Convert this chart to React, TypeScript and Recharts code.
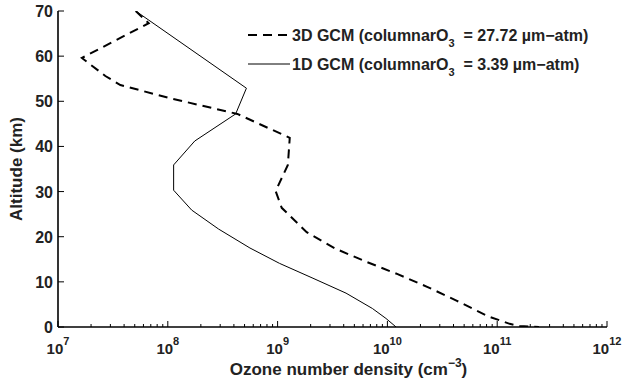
import React from 'react';
import { ScatterChart, Scatter, XAxis, YAxis, Legend } from 'recharts';

// altitude (km) / ozone number density (cm^-3)
const alt3d = [70, 67.3, 59.6, 55.6, 53.6, 50.7, 47.2, 41.9, 35.9, 30.1, 26.4, 21.0, 17.3, 14.4, 11.7, 8.9, 5.8, 2.4, 0.7, 0.2, 0];
const density3d = [5.1e7, 6.7e7, 1.65e7, 2.7e7, 3.7e7, 1.04e8, 4.3e8, 1.29e9, 1.24e9, 9.6e8, 1.09e9, 1.84e9, 3.4e9, 6.5e9, 1.24e10, 2.3e10, 4.3e10, 8.2e10, 1.3e11, 1.6e11, 2.4e11];

const alt1d = [70, 52.9, 47.2, 41.2, 35.9, 30.3, 25.9, 21.7, 17.5, 14.1, 10.8, 7.5, 4.1, 1.9, 0];
const density1d = [5.1e7, 5.2e8, 4.15e8, 1.76e8, 1.13e8, 1.13e8, 1.65e8, 2.9e8, 5.6e8, 1.04e9, 2.1e9, 4.2e9, 7.3e9, 9.7e9, 1.2e10];

const decadeExponents = [7, 8, 9, 10, 11, 12];
const minorMultipliers = [2, 3, 4, 5, 6, 7, 8, 9];
const altitudeTicks = [0, 10, 20, 30, 40, 50, 60, 70];

const legendItems = [
  { label: '3D GCM (columnarO', sub: '3', rest: '\u00A0\u00A0= 27.72 \u00B5m\u2212atm)', dash: '9 6', width: 2 },
  { label: '1D GCM (columnarO', sub: '3', rest: '\u00A0\u00A0= 3.39 \u00B5m\u2212atm)', dash: undefined, width: 1 },
];

const FONT = '"Liberation Sans", Arial, Helvetica, sans-serif';
const TEXT = '#222';

const data3d = alt3d.map((a, i) => ({ alt: a, density: density3d[i] }));
const data1d = alt1d.map((a, i) => ({ alt: a, density: density1d[i] }));

const decades = decadeExponents.map((e) => Math.pow(10, e));
const xTicks = [
  ...decades,
  ...decadeExponents.slice(0, -1).flatMap((e) => minorMultipliers.map((m) => m * Math.pow(10, e))),
];

const isDecade = (v: number) => decades.some((d) => Math.abs(d - v) < d * 1e-6);

function BottomTick(props: any) {
  const { x, y, payload } = props;
  const major = isDecade(payload.value);
  const exp = Math.round(Math.log10(payload.value));
  return (
    <g>
      <line x1={x} x2={x} y1={y} y2={y - (major ? 6 : 3)} stroke="#000" />
      {major && (
        <text x={x} y={y + 27} textAnchor="middle" fontFamily={FONT} fontWeight="bold" fontSize={15} fill={TEXT}>
          10
          <tspan dy={-9} fontSize={11}>{exp}</tspan>
        </text>
      )}
    </g>
  );
}

function TopTick(props: any) {
  const { x, y, payload } = props;
  const major = isDecade(payload.value);
  return <line x1={x} x2={x} y1={y} y2={y + (major ? 6 : 3)} stroke="#000" />;
}

function LeftTick(props: any) {
  const { x, y, payload } = props;
  return (
    <g>
      <line x1={x} x2={x + 6} y1={y} y2={y} stroke="#000" />
      <text x={x - 5} y={y + 6} textAnchor="end" fontFamily={FONT} fontWeight="bold" fontSize={16} fill={TEXT}>
        {payload.value}
      </text>
    </g>
  );
}

function RightTick(props: any) {
  const { x, y } = props;
  return <line x1={x} x2={x - 6} y1={y} y2={y} stroke="#000" />;
}

function XTitle(props: any) {
  const { x, y, width } = props.viewBox;
  return (
    <text x={x + width / 2 + 16} y={y + 48} textAnchor="middle" fontFamily={FONT} fontWeight="bold" fontSize={17} fill={TEXT}>
      Ozone number density (cm
      <tspan dy={-8} fontSize={12}>{'\u22123'}</tspan>
      <tspan dy={8}>)</tspan>
    </text>
  );
}

function YTitle(props: any) {
  const { y, height } = props.viewBox;
  const cx = 22;
  const cy = y + height / 2;
  return (
    <text x={cx} y={cy} transform={`rotate(-90, ${cx}, ${cy})`} textAnchor="middle" fontFamily={FONT} fontWeight="bold" fontSize={17} fill={TEXT}>
      Altitude (km)
    </text>
  );
}

function LegendBox() {
  return (
    <svg width={370} height={56}>
      {legendItems.map((item, i) => {
        const cy = 15 + i * 29;
        return (
          <g key={item.label + i}>
            <line x1={4} x2={46} y1={cy} y2={cy} stroke="#000" strokeWidth={item.width} strokeDasharray={item.dash} />
            <text x={48} y={cy + 5.5} fontFamily={FONT} fontWeight="bold" fontSize={16} fill={TEXT}>
              {item.label}
              <tspan dy={6} fontSize={11}>{item.sub}</tspan>
              <tspan dy={-6}>{item.rest}</tspan>
            </text>
          </g>
        );
      })}
    </svg>
  );
}

const noDot = () => <g />;

export default function App() {
  return (
    <div style={{ position: 'absolute', left: 0, top: 0, width: 624, height: 384, background: '#fff' }}>
      <ScatterChart width={624} height={384} margin={{ top: 11, right: 17, bottom: 0, left: 0 }}>
        <XAxis
          xAxisId="bottom"
          dataKey="density"
          type="number"
          scale="log"
          domain={[1e7, 1e12]}
          allowDataOverflow
          ticks={xTicks}
          interval={0}
          tick={BottomTick}
          tickLine={false}
          tickSize={0}
          tickMargin={0}
          height={57}
          axisLine={{ stroke: '#000', strokeWidth: 1.6 }}
          label={{ content: XTitle }}
        />
        <XAxis
          xAxisId="top"
          orientation="top"
          dataKey="density"
          type="number"
          scale="log"
          domain={[1e7, 1e12]}
          allowDataOverflow
          ticks={xTicks}
          interval={0}
          tick={TopTick}
          tickLine={false}
          tickSize={0}
          tickMargin={0}
          height={0}
          axisLine={{ stroke: '#000', strokeWidth: 1.6 }}
        />
        <YAxis
          yAxisId="left"
          dataKey="alt"
          type="number"
          domain={[0, 70]}
          allowDataOverflow
          ticks={altitudeTicks}
          interval={0}
          tick={LeftTick}
          tickLine={false}
          tickSize={0}
          tickMargin={0}
          width={58}
          axisLine={{ stroke: '#000', strokeWidth: 1.6 }}
          label={{ content: YTitle }}
        />
        <YAxis
          yAxisId="right"
          orientation="right"
          dataKey="alt"
          type="number"
          domain={[0, 70]}
          allowDataOverflow
          ticks={altitudeTicks}
          interval={0}
          tick={RightTick}
          tickLine={false}
          tickSize={0}
          tickMargin={0}
          width={0}
          axisLine={{ stroke: '#000', strokeWidth: 1.6 }}
        />
        <Legend
          layout="horizontal"
          verticalAlign="middle"
          align="center"
          content={LegendBox}
          wrapperStyle={{ position: 'absolute', left: 244, top: 20, width: 370, height: 56 }}
        />
        <Scatter
          name="3D GCM"
          data={data3d}
          xAxisId="bottom"
          yAxisId="left"
          line={{ stroke: '#000', strokeWidth: 2, strokeDasharray: '9 6' }}
          lineType="joint"
          shape={noDot}
          isAnimationActive={false}
        />
        <Scatter
          name="1D GCM"
          data={data1d}
          xAxisId="bottom"
          yAxisId="left"
          line={{ stroke: '#000', strokeWidth: 1 }}
          lineType="joint"
          shape={noDot}
          isAnimationActive={false}
        />
      </ScatterChart>
    </div>
  );
}
